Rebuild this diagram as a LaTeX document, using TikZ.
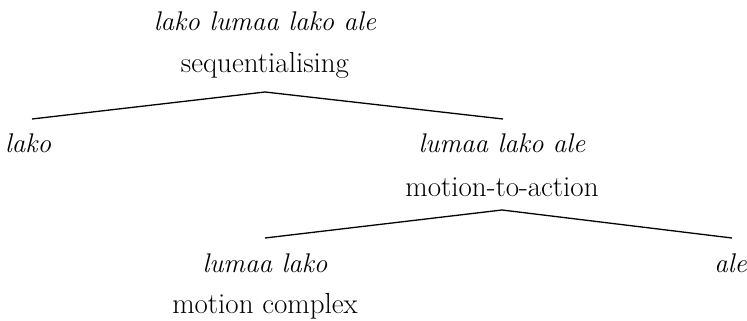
\documentclass[tikz,border=0pt]{standalone}
\begin{document}
\begin{tikzpicture}[x=1pt,y=-1pt,
  lbl/.style={anchor=base,inner sep=0pt,font=\fontsize{29}{33}\selectfont},
  it/.style={lbl,font=\fontsize{27}{31}\selectfont\itshape},
  edge/.style={line width=1.3pt}]
\useasboundingbox (0,0) rectangle (747,321);
% root
\node[it]  (r)    at (265,31)  {lako lumaa lako ale};
\node[lbl] (rl)   at (265,73)  {sequentialising};
\coordinate (ra) at (265,92);
% level 1
\node[it,anchor=base west]  (l1)   at (5,152)  {lako};
\coordinate (l1t) at (32,119);
\node[it]  (m)    at (502,152) {lumaa lako ale};
\node[lbl] (ml)   at (502,196) {motion-to-action};
\coordinate (mt) at (503,119);
\coordinate (ma) at (502,210);
% level 2
\node[it]  (ll)   at (265,272) {lumaa lako};
\node[lbl] (lll)  at (265,313) {motion complex};
\coordinate (llt) at (265,238);
\node[it,anchor=base east]  (a)    at (747,272) {ale};
\coordinate (at1) at (732,238);
\draw[edge] (ra) -- (l1t);
\draw[edge] (ra) -- (mt);
\draw[edge] (ma) -- (llt);
\draw[edge] (ma) -- (at1);
\end{tikzpicture}
\end{document}
